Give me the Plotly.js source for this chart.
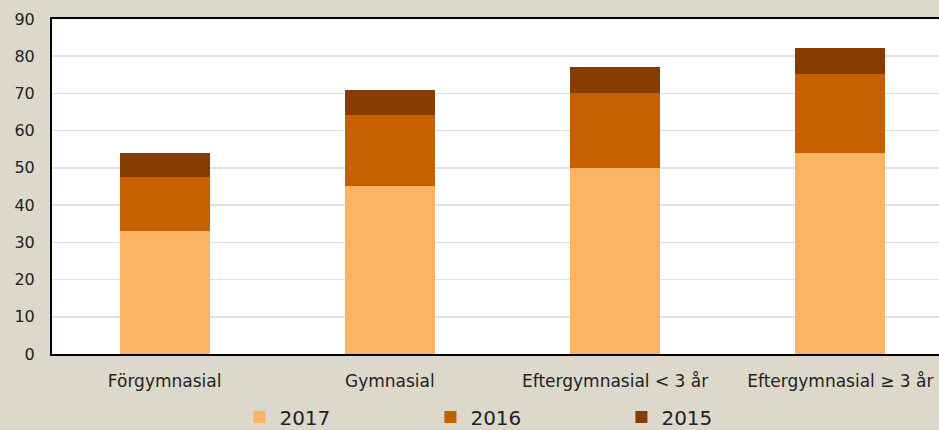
<!DOCTYPE html>
<html>
<head>
<meta charset="utf-8">
<script src="https://cdn.plot.ly/plotly-3.0.1.min.js"></script>
<style>
html,body{margin:0;padding:0;background:#DDD8CC;overflow:hidden;}
#chart{width:953px;height:430px;}
</style>
</head>
<body>
<div id="chart"></div>
<script>
const categories = ["Förgymnasial", "Gymnasial", "Eftergymnasial < 3 år", "Eftergymnasial ≥ 3 år"];
const v2017 = [33.1, 45.2, 50.0, 53.9];
const v2016 = [14.5, 18.9, 20.2, 21.4];
const v2015 = [6.3, 6.7, 6.8, 7.0];
const yTicks = [0, 10, 20, 30, 40, 50, 60, 70, 80, 90];

const FONT = "DejaVu Sans, sans-serif";
const mk = (name, y, color) => ({
  type: "bar", name: name, x: [0,1,2,3], y: y,
  marker: {color: color, line: {width: 0}},
  width: 0.4, hoverinfo: "skip"
});
const data = [
  mk("2017", v2017, "#FDB462"),
  mk("2016", v2016, "#C55F00"),
  mk("2015", v2015, "#843C00")
];
const layout = {
  width: 953, height: 430,
  barmode: "stack",
  paper_bgcolor: "#DDD8CC",
  plot_bgcolor: "#FFFFFF",
  margin: {l: 52, r: 0, t: 19, b: 76, pad: 0, autoexpand: false},
  font: {family: FONT, color: "#222222"},
  xaxis: {
    range: [-0.5, 3.5],
    tickmode: "array", tickvals: [0,1,2,3], ticktext: categories,
    tickfont: {size: 17, color: "#222"},
    ticklabelstandoff: 11,
    showgrid: false, zeroline: false,
    showline: true, linecolor: "#000", linewidth: 2, mirror: true,
    ticks: "", ticklen: 0, automargin: false
  },
  yaxis: {
    range: [0, 90],
    tickmode: "array", tickvals: yTicks,
    tickfont: {size: 16, color: "#222"},
    ticklabelstandoff: 12,
    showgrid: true, gridcolor: "#E0E0E0", gridwidth: 1.5,
    zeroline: false,
    showline: true, linecolor: "#000", linewidth: 2, mirror: true,
    ticks: "", ticklen: 0, automargin: false
  },
  showlegend: true,
  legend: {
    orientation: "h", x: 0.208, xanchor: "left", y: -0.13, yanchor: "top",
    font: {size: 20, color: "#222"},
    entrywidth: 146, entrywidthmode: "pixels",
    traceorder: "normal", bgcolor: "rgba(0,0,0,0)"
  }
};
Plotly.newPlot("chart", data, layout, {displayModeBar: false, staticPlot: true});
</script>
</body>
</html>
